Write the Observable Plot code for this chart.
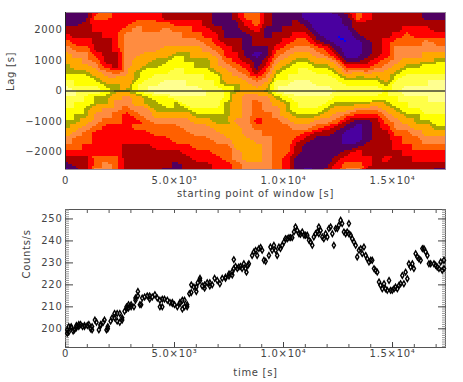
<!DOCTYPE html>
<html><head><meta charset="utf-8">
<script src="https://cdn.jsdelivr.net/npm/d3@7"></script>
<script src="https://cdn.jsdelivr.net/npm/@observablehq/plot@0.6"></script>
<style>
html,body{margin:0;padding:0;background:#fff}
svg{display:block}
text{letter-spacing:.7px}
</style></head><body><div id="top"></div><div id="bot"></div>
<script>
const windowStarts=[0,460,920,1380,1840,2300,2760,3220,3680,4140,4600,5060,5520,5980,6440,6900,7360,7820,8280,8740,9200,9660,10120,10580,11040,11500,11960,12420,12880,13340,13800,14260,14720,15180,15640,16100,16560,17020,17480];
const lags=[2600,2400,2200,2000,1800,1600,1400,1200,1000,800,600,400,200,0,-200,-400,-600,-800,-1000,-1200,-1400,-1600,-1800,-2000,-2200,-2400,-2600];
// correlation band index (0 = lowest ... b = highest) down each window column
const bandColumns=[
"222345677889abaa99887654321","2223345677899aa998876554332","2233345667899a9988765544333",
"4544333456789a8876654444556","554443333467898866544444566","444444433357887665544444555",
"444566666667786654444433333","445666667788997765454433333","445566677899aa8866554433333",
"44556667889aab9887655443333","33566677899abb9987655443332","3345667899aabba887655543322",
"33455678899aabaa87665544333","33445677889aabaa98766554433","333445678899aaaa98766554433",
"2223445677899aaa98876655444","222223445677899888877655544","332223344567887777677776655",
"554322223456776666666777766","555433212235676555456677766","333223223456786665555666666",
"222233456789aa8766555555555","222334567899ab9887655555444","22334567899abba998765433222",
"1123456789aabbaa98764322221","11112356789aabaa98653222222","11111245789aaba987643222223",
"211101235789aa9876532222344","3221101124689a9875321123456","5533211124789a9864211124456",
"4433322234689a9864222233443","3333333345789a9764333333333","333334445677899876543333433",
"333345666789aa9987665443333","33345566789aaba998765544333","33344566789aabaa98876554433",
"22344667799aabaaa9877654433","22334567899abbbaa9987654432","22334567899abbbaa9987654432"];
const bandColors=["#0000ff","#4a00a0","#500060","#a80000","#ff0000","#ff6000","#ff8c40","#ffa800","#a8a800","#ffff00","#ffff48","#ffff90"];
const bandEdges=[.15,1.5,2.5,3.5,4.5,5.5,6.5,7.7,8.3,9.2,10.1];
const times=[80,80,150,150,260,260,350,410,500,500,610,610,690,780,870,870,1000,
1070,1150,1220,1220,1350,1420,1530,1610,1610,1730,1790,1880,1940,1940,2070,2140,2250,2250,2370,2370,2490,2490,2600,2600,2710,2800,2800,2890,2890,3010,3010,
3140,3210,3210,3320,3320,3410,3470,3520,3630,3750,3860,3860,3980,4100,4210,4330,4330,4440,4440,4540,4670,4790,4900,4900,5000,5130,
5250,5250,5360,5360,5460,5460,5580,5580,5680,5770,5770,5890,6000,6000,6070,6170,6170,6270,6380,6380,6500,6620,6620,6730,6840,6960,7080,7190,7340,7340,7500,7500,7650,7650,
7720,7720,7800,7880,7950,8030,8100,8180,8260,8300,8370,8410,8560,8640,8720,8790,8870,8950,9020,9100,9180,9330,9400,9480,9560,9640,9710,9790,9860,9940,10020,10090,10170,10250,10320,10400,10480,10550,10630,10710,10780,10860,10940,11010,11090,11170,11240,11320,11390,11470,11550,11620,11620,11700,11780,11850,11930,12010,12080,12160,12240,12310,12390,12470,12540,12620,12690,12770,12850,12920,13000,13000,13080,13150,13230,13310,13380,13460,13540,13610,13690,13770,13840,13920,14000,14070,14150,14220,14300,14380,14450,14530,14610,14680,14760,14840,14910,14990,15070,15140,15220,15300,15370,15450,15520,15600,15680,15750,15830,15910,15980,16060,16140,16210,16290,16370,16440,16520,16600,16670,16750,16900,16980,17050,17130,17210,17280,17360,17360];
const counts=[198,199.5,201,198.5,201,200.5,199,199.5,201.5,200.5,202,201,202,201,201,201.5,201.5,
202,200,199.5,201,204,203,199.5,201.5,202,203,204,199.5,200,201,203.5,205,207,205,207,203.5,207,203,205,204,208,210,209,211,209.5,211,210,
210,213,214,217,215,211,211,214,214.5,215,215,213.5,214.5,215.5,214,213,210,210,213.5,213.5,213,212,212,211.5,211,210,
212,211.5,209,213,213,210,210,211,216,220,216.5,219,217,219,221,223,222,219.5,218.5,220,221,219.5,221,220,223,222,220.5,223,223,223.5,224,225,226,224.5,
231.5,227.4,228.4,227.4,228.1,228.4,227.4,229.6,227.4,225.8,228.9,229.6,233.4,235,235.7,233.4,236.5,237,235.7,231.2,230.7,233.4,237.2,235.7,238,235.7,233.4,237.2,236.5,238,239.5,241,241,241.5,241.5,241.5,244.1,246.4,244.8,243.3,243,244.1,242.6,242.6,242.6,240.3,239.5,238,241.8,243.3,244.1,243.3,246.4,244.8,241.8,241,243.3,241.8,245.6,246.4,243.3,238,245.6,245.6,247.1,249.4,247.9,244.1,243.3,244.1,247.9,243.3,242.6,241,239.5,238,232.7,235.7,236.5,234.2,237.2,233.4,231.9,230.4,231.2,231.2,227.4,226.6,225.8,221.3,219.8,218.2,220.5,218.2,217.5,222,217.5,217.5,218.2,219,218.2,219.8,220.5,224.3,220.5,225.8,222.8,229.6,228.1,229.6,227.4,234.2,232.7,231.9,231.2,236.5,236.5,235,233.4,229.6,229.6,229.6,228.9,228.1,227.4,230.4,226.6,231.2,227.4];
const xMajor=[0,5000,10000,15000];
const xLabels=["0","5.0×10³","1.0×10⁴","1.5×10⁴"];
const lagTicks=[-2000,-1000,0,1000,2000];
const countTicks=[200,210,220,230,240,250];
const xDomain=[0,17430];
const font="DejaVu Sans";
const ink="#444";

const cells=[];
bandColumns.forEach((col,i)=>[...col].forEach((ch,j)=>cells.push({t:windowStarts[i],lag:lags[j],band:parseInt(ch,16)})));
const fmtX=d=>xLabels[xMajor.indexOf(d)];

const heat=Plot.plot({
  width:463,height:200,marginLeft:65,marginRight:18,marginTop:12,marginBottom:31,
  style:{fontFamily:font,fontSize:"10px",color:ink,background:"#fff"},
  x:{domain:xDomain},y:{domain:[-2580,2580]},
  color:{type:"threshold",domain:bandEdges,range:bandColors},
  marks:[
    Plot.raster(cells,{x:"t",y:"lag",fill:"band",interpolate:"barycentric",pixelSize:2,imageRendering:"pixelated"}),
    Plot.frame({stroke:"#9a8a9a",strokeWidth:1}),
    Plot.ruleX([0],{stroke:"#222",strokeWidth:1}),
    Plot.ruleY([0],{stroke:"#222",strokeOpacity:.85,strokeWidth:1.4}),
    Plot.axisX({ticks:xMajor,tickSize:0,tickPadding:7,tickFormat:fmtX,label:null,fill:ink}),
    Plot.axisY({ticks:lagTicks,tickSize:0,tickPadding:3,tickFormat:d=>d<0?"−"+(-d):""+d,label:null,fill:ink}),
    Plot.text(["starting point of window [s]"],{frameAnchor:"bottom",dy:27,fill:ink}),
    Plot.text(["Lag [s]"],{frameAnchor:"left",dx:-55,rotate:-90,fill:ink})
  ]});

const scat=Plot.plot({
  width:463,height:182,marginLeft:65,marginRight:18,marginTop:9,marginBottom:35,
  style:{fontFamily:font,fontSize:"10px",color:ink,background:"#fff"},
  x:{domain:xDomain},y:{domain:[191.5,254.3]},
  marks:[
    Plot.frame({stroke:"#555",strokeWidth:1}),
    Plot.axisY({anchor:"left",ticks:d3.range(192,255),tickSize:-4,text:null,label:null,stroke:"#999"}),
    Plot.axisY({anchor:"right",ticks:d3.range(192,255),tickSize:-4,text:null,label:null,stroke:"#999"}),
    Plot.axisY({anchor:"left",ticks:countTicks,tickSize:-8,tickPadding:11,label:null,fill:ink,stroke:"#444"}),
    Plot.axisY({anchor:"right",ticks:countTicks,tickSize:-8,text:null,label:null,stroke:"#444"}),
    Plot.axisX({anchor:"bottom",ticks:d3.range(1000,18000,1000),tickSize:-3,text:null,label:null,stroke:"#555"}),
    Plot.axisX({anchor:"top",ticks:d3.range(1000,18000,1000),tickSize:-3,text:null,label:null,stroke:"#555"}),
    Plot.axisX({anchor:"bottom",ticks:xMajor,tickSize:-5,tickPadding:7,tickFormat:fmtX,label:null,fill:ink,stroke:"#444"}),
    Plot.dot(times.map((t,i)=>({t,c:counts[i]})),{x:"t",y:"c",symbol:"diamond",r:1.7,stroke:"#000",strokeWidth:1.4,fill:"none"}),
    Plot.text(["time [s]"],{frameAnchor:"bottom",dy:28,fill:ink}),
    Plot.text(["Counts/s"],{frameAnchor:"left",dx:-39,rotate:-90,fill:ink})
  ]});
document.getElementById("top").append(heat);
document.getElementById("bot").append(scat);
</script></body></html>
